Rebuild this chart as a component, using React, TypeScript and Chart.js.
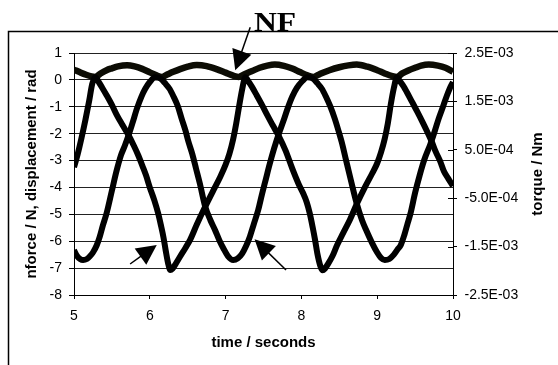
import React, { useEffect, useRef } from 'react';
import { Chart, registerables } from 'chart.js';

Chart.register(...registerables);

// ---------- text ----------
const chartTitle = 'NF';
const xAxisTitle = 'time / seconds';
const leftAxisTitle = 'nforce / N, displacement / rad';
const rightAxisTitle = 'torque / Nm';

// ---------- ticks ----------
const xTickValues = [5, 6, 7, 8, 9, 10];
const leftTickValues = [1, 0, -1, -2, -3, -4, -5, -6, -7, -8];
const torqueTickValues = [0.0025, 0.0015, 0.0005, -0.0005, -0.0015, -0.0025];
const torqueTickLabels = ['2.5E-03', '1.5E-03', '5.0E-04', '-5.0E-04', '-1.5E-03', '-2.5E-03'];

// ---------- series: NF (top, cusped arcs) ----------
const nfTime = [
  5.0, 5.08, 5.16, 5.23, 5.28, 5.35, 5.43, 5.5, 5.58, 5.7, 5.8, 5.9, 6.0, 6.08, 6.16,
  6.23, 6.31, 6.4, 6.5, 6.62, 6.75, 6.88, 7.0, 7.1, 7.17,
  7.25, 7.35, 7.45, 7.55, 7.65, 7.77, 7.88, 7.98, 8.08, 8.16,
  8.25, 8.37, 8.5, 8.62, 8.73, 8.87, 9.0, 9.1, 9.2, 9.26,
  9.33, 9.41, 9.5, 9.58, 9.68, 9.8, 9.9, 10.0,
];
const nfValues = [
  0.38, 0.28, 0.19, 0.13, 0.11, 0.24, 0.36, 0.43, 0.5, 0.54, 0.5, 0.41, 0.28, 0.18, 0.11,
  0.2, 0.3, 0.4, 0.49, 0.55, 0.51, 0.4, 0.27, 0.16, 0.11,
  0.21, 0.33, 0.45, 0.53, 0.57, 0.52, 0.42, 0.29, 0.17, 0.11,
  0.23, 0.36, 0.47, 0.54, 0.57, 0.49, 0.36, 0.24, 0.14, 0.11,
  0.24, 0.35, 0.45, 0.53, 0.57, 0.53, 0.45, 0.3,
];

// ---------- series: curve A (sharp minima) ----------
const curveATime = [
  5.0, 5.05, 5.1, 5.15, 5.2, 5.24, 5.28, 5.32, 5.37, 5.43, 5.5, 5.56, 5.64, 5.72, 5.79, 5.85,
  5.9, 5.95, 6.0, 6.06, 6.11, 6.15, 6.18, 6.21, 6.24, 6.27, 6.3, 6.34, 6.4, 6.47, 6.53, 6.62,
  6.73, 6.84, 6.93, 7.0, 7.05, 7.1, 7.14, 7.18, 7.22, 7.26, 7.3, 7.35, 7.41, 7.48, 7.55, 7.62,
  7.7, 7.79, 7.88, 7.96, 8.02, 8.07, 8.11, 8.15, 8.18, 8.21, 8.25, 8.28, 8.31, 8.35, 8.41, 8.47,
  8.55, 8.64, 8.73, 8.84, 8.93, 9.0, 9.05, 9.1, 9.14, 9.18, 9.22, 9.26, 9.3, 9.35, 9.39, 9.46,
  9.53, 9.6, 9.66, 9.72, 9.77, 9.83, 9.88, 9.94, 10.0,
];
const curveAValues = [
  -3.25, -2.75, -2.15, -1.5, -0.78, -0.15, 0.1, -0.05, -0.28, -0.57, -0.93, -1.28, -1.68, -2.06, -2.45, -2.82,
  -3.18, -3.55, -4.0, -4.48, -4.96, -5.45, -5.85, -6.35, -6.8, -7.07, -7.02, -6.85, -6.57, -6.25, -5.96, -5.38,
  -4.72, -4.1, -3.6, -3.15, -2.75, -2.2, -1.62, -0.95, -0.33, 0.1, -0.05, -0.27, -0.57, -0.93, -1.31, -1.68,
  -2.08, -2.62, -3.3, -3.85, -4.2, -4.55, -4.96, -5.5, -5.95, -6.45, -6.92, -7.08, -7.02, -6.85, -6.55, -6.15,
  -5.7, -5.2, -4.62, -3.98, -3.5, -3.1, -2.7, -2.18, -1.62, -0.9, -0.3, 0.1, -0.05, -0.25, -0.45, -0.82,
  -1.19, -1.58, -1.93, -2.3, -2.66, -3.02, -3.4, -3.68, -3.95,
];

// ---------- series: curve B (smooth minima) ----------
const curveBTime = [
  5.0, 5.04, 5.08, 5.12, 5.17, 5.21, 5.25, 5.3, 5.34, 5.38, 5.43, 5.5, 5.56, 5.62, 5.67, 5.72,
  5.77, 5.83, 5.89, 5.94, 6.0, 6.07, 6.14, 6.2, 6.26, 6.31, 6.37, 6.42, 6.47, 6.51, 6.56, 6.61,
  6.66, 6.73, 6.8, 6.86, 6.92, 6.97, 7.03, 7.1, 7.16, 7.22, 7.27, 7.32, 7.37, 7.43, 7.48, 7.53,
  7.58, 7.64, 7.7, 7.76, 7.82, 7.88, 7.94, 8.01, 8.08, 8.15, 8.21, 8.27, 8.32, 8.38, 8.44, 8.49,
  8.54, 8.59, 8.65, 8.73, 8.8, 8.86, 8.93, 9.0, 9.05, 9.1, 9.16, 9.22, 9.27, 9.31, 9.36, 9.4,
  9.44, 9.5, 9.56, 9.62, 9.7, 9.76, 9.81, 9.87, 9.92, 9.96, 10.0,
];
const curveBValues = [
  -6.33, -6.55, -6.66, -6.7, -6.66, -6.56, -6.42, -6.15, -5.83, -5.42, -4.96, -4.12, -3.4, -2.8, -2.45, -2.06,
  -1.62, -1.07, -0.62, -0.33, -0.08, 0.1, 0.05, -0.12, -0.33, -0.6, -0.98, -1.44, -1.88, -2.3, -2.75, -3.3,
  -3.85, -4.7, -5.22, -5.58, -5.98, -6.26, -6.55, -6.7, -6.64, -6.45, -6.18, -5.83, -5.38, -4.84, -4.25, -3.7,
  -3.15, -2.55, -2.02, -1.55, -1.05, -0.62, -0.3, -0.05, 0.1, 0.05, -0.12, -0.33, -0.6, -0.98, -1.44, -1.9,
  -2.4, -3.0, -3.7, -4.6, -5.22, -5.62, -6.05, -6.42, -6.62, -6.7, -6.66, -6.5, -6.3, -6.15, -5.75, -5.35,
  -4.96, -4.2, -3.55, -2.98, -2.4, -1.9, -1.45, -0.98, -0.58, -0.3, -0.08,
];

// ---------- annotation arrows (data units) ----------
const arrowTailX = [7.325, 5.74, 7.797];
const arrowTailY = [1.954, -6.847, -7.069];
const arrowTipX = [7.127, 6.092, 7.382];
const arrowTipY = [0.358, -6.141, -5.929];

const SANS = '"Liberation Sans", Arial, Helvetica, sans-serif';

const toPoints = (xs: number[], ys: number[]) => xs.map((x, i) => ({ x, y: ys[i] }));

const decorations = {
  id: 'decorations',
  afterDraw(chart: any) {
    const ctx = chart.ctx as CanvasRenderingContext2D;
    const xs = chart.scales.x;
    const ys = chart.scales.y;
    const y2 = chart.scales.y2;
    const area = chart.chartArea;
    ctx.save();

    // outer frame (cropped at right and bottom)
    ctx.strokeStyle = '#000';
    ctx.lineWidth = 1.5;
    ctx.strokeRect(8.5, 31.5, chart.width + 40, chart.height + 40);

    // inner half of the crossing ticks on the right axis
    ctx.lineWidth = 1;
    ctx.beginPath();
    y2.ticks.forEach((t: any) => {
      const py = Math.round(y2.getPixelForValue(t.value)) + 0.5;
      ctx.moveTo(y2.left - 5, py);
      ctx.lineTo(y2.left, py);
    });
    ctx.stroke();

    // right axis title (reads bottom to top)
    ctx.save();
    ctx.translate(538, (area.top + area.bottom) / 2);
    ctx.rotate(-Math.PI / 2);
    ctx.font = `bold 15px ${SANS}`;
    ctx.fillStyle = '#000';
    ctx.textAlign = 'center';
    ctx.textBaseline = 'middle';
    ctx.fillText(rightAxisTitle, 0, 0);
    ctx.restore();

    // chart title "NF"
    ctx.save();
    ctx.translate(254, 30.5);
    ctx.scale(1.13, 1);
    ctx.font = 'bold 28px "Liberation Serif", "Times New Roman", serif';
    ctx.fillStyle = '#000';
    ctx.textAlign = 'left';
    ctx.textBaseline = 'alphabetic';
    ctx.fillText(chartTitle, 0, 0);
    ctx.restore();

    // arrows
    const headLen = 20;
    const headHalf = 10;
    ctx.fillStyle = '#000';
    ctx.strokeStyle = '#000';
    ctx.lineWidth = 1.5;
    for (let i = 0; i < arrowTipX.length; i++) {
      const tx = xs.getPixelForValue(arrowTailX[i]);
      const ty = ys.getPixelForValue(arrowTailY[i]);
      const hx = xs.getPixelForValue(arrowTipX[i]);
      const hy = ys.getPixelForValue(arrowTipY[i]);
      const len = Math.hypot(hx - tx, hy - ty);
      const ux = (hx - tx) / len;
      const uy = (hy - ty) / len;
      const bx = hx - ux * headLen;
      const by = hy - uy * headLen;
      ctx.beginPath();
      ctx.moveTo(tx, ty);
      ctx.lineTo(bx + ux * 2, by + uy * 2);
      ctx.stroke();
      ctx.beginPath();
      ctx.moveTo(hx, hy);
      ctx.lineTo(bx - uy * headHalf, by + ux * headHalf);
      ctx.lineTo(bx + uy * headHalf, by - ux * headHalf);
      ctx.closePath();
      ctx.fill();
    }
    ctx.restore();
  },
};

export default function App() {
  const ref = useRef<HTMLCanvasElement>(null);

  useEffect(() => {
    const canvas = ref.current;
    if (!canvas) return;
    const lineStyle = {
      borderColor: '#000',
      backgroundColor: '#000',
      borderWidth: 6,
      pointRadius: 0,
      fill: false,
      cubicInterpolationMode: 'monotone' as const,
    };
    const chart = new Chart(canvas, {
      type: 'line',
      data: {
        datasets: [
          { label: 'curve A', data: toPoints(curveATime, curveAValues), ...lineStyle, yAxisID: 'y' },
          { label: 'curve B', data: toPoints(curveBTime, curveBValues), ...lineStyle, yAxisID: 'y' },
          { label: 'NF', data: toPoints(nfTime, nfValues), ...lineStyle, borderColor: '#0c0c04', borderWidth: 6.5, yAxisID: 'y' },
        ],
      },
      options: {
        responsive: false,
        animation: false,
        events: [],
        layout: { padding: { top: 53, left: 0, right: 0, bottom: 0 } },
        plugins: {
          legend: { display: false },
          tooltip: { enabled: false },
          title: { display: false },
        },
        scales: {
          x: {
            type: 'linear',
            min: 5,
            max: 10,
            afterFit: (s: any) => { s.height = 70; },
            afterBuildTicks: (s: any) => { s.ticks = xTickValues.map((v) => ({ value: v })); },
            ticks: { color: '#000', font: { family: SANS, size: 14 }, padding: 9, maxRotation: 0 },
            grid: { drawOnChartArea: false, tickLength: 4, color: '#000', tickColor: '#000' },
            border: { color: '#000', width: 1 },
            title: {
              display: true,
              text: xAxisTitle,
              color: '#000',
              font: { family: SANS, size: 15, weight: 'bold' },
              padding: { top: 0, bottom: 13 },
            },
          },
          y: {
            type: 'linear',
            position: 'left',
            min: -8,
            max: 1,
            afterFit: (s: any) => { s.width = 74; },
            afterBuildTicks: (s: any) => { s.ticks = leftTickValues.map((v) => ({ value: v })); },
            ticks: { color: '#000', font: { family: SANS, size: 14 }, padding: 7 },
            grid: { color: '#222', lineWidth: 1, tickLength: 5, tickColor: '#000' },
            border: { color: '#000', width: 1 },
            title: {
              display: true,
              text: leftAxisTitle,
              color: '#000',
              font: { family: SANS, size: 15, weight: 'bold' },
              padding: { top: 22.5, bottom: 0 },
            },
          },
          y2: {
            type: 'linear',
            position: 'right',
            min: -0.0025,
            max: 0.0025,
            afterFit: (s: any) => { s.width = 105; },
            afterBuildTicks: (s: any) => { s.ticks = torqueTickValues.map((v) => ({ value: v })); },
            ticks: {
              color: '#000',
              font: { family: SANS, size: 14 },
              padding: 7.5,
              callback: (v: any) => {
                let best = 0;
                torqueTickValues.forEach((t, i) => {
                  if (Math.abs(t - v) < Math.abs(torqueTickValues[best] - v)) best = i;
                });
                return torqueTickLabels[best];
              },
            },
            grid: { drawOnChartArea: false, tickLength: 4, color: '#000', tickColor: '#000' },
            border: { color: '#000', width: 1 },
          },
        },
      },
      plugins: [decorations],
    });
    return () => chart.destroy();
  }, []);

  return (
    <canvas
      ref={ref}
      width={558}
      height={365}
      style={{ position: 'absolute', left: 0, top: 0, width: 558, height: 365, display: 'block', background: '#fff' }}
    />
  );
}
